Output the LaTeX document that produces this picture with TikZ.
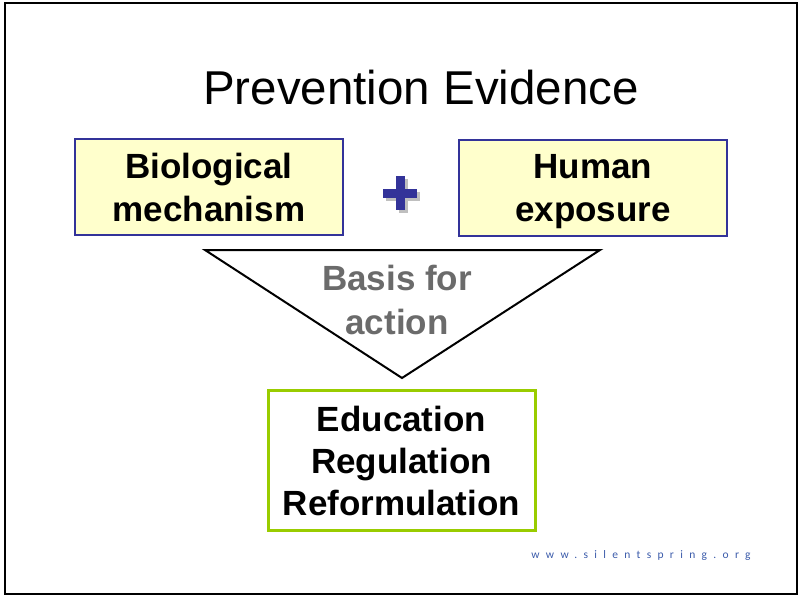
\documentclass[tikz,border=0pt]{standalone}
\usepackage{fontspec}
\setmainfont{Liberation Sans}
\newfontfamily\urlfont{Carlito}
\definecolor{boxblue}{HTML}{333399}
\definecolor{boxyellow}{HTML}{FFFFCC}
\definecolor{boxgreen}{HTML}{99CC00}
\definecolor{urlblue}{HTML}{3B5BAA}
\begin{document}
\begin{tikzpicture}[x=1pt,y=-1pt,
  evbox/.style={draw=boxblue,line width=2pt,fill=boxyellow,minimum width=268pt,minimum height=96pt,inner sep=0pt},
  evtext/.style={align=center,inner sep=0pt,font=\fontsize{35}{43}\selectfont\bfseries},
  actbox/.style={draw=boxgreen,line width=3pt,fill=white,minimum width=267pt,minimum height=140pt,inner sep=0pt},
  acttext/.style={align=center,inner sep=0pt,font=\fontsize{35}{42}\selectfont\bfseries},
  basis/.style={align=center,inner sep=0pt,text=black!58,font=\fontsize{35}{44}\selectfont\bfseries},
  plusbar/.style={fill=boxblue},
  plusshadow/.style={fill=black!25}]
\useasboundingbox (0,0) rectangle (803,597);
\draw[line width=2.5pt] (5,3) rectangle (797,594);
\node[font=\fontsize{47.5}{50}\selectfont] (title) at (421,88) {Prevention Evidence};
\node[evbox] (bio) at (209,187) {};
\node[evtext] (biot) at ([yshift=-4pt]bio.center) {\strut Biological\\\strut mechanism};
\node[evbox] (hum) at (593,187.5) {};
\node[evtext] (humt) at ([yshift=-4pt]hum.center) {\strut Human\\\strut exposure};
% plus sign
\fill[plusshadow] (386,191.5) rectangle (420,200.5);
\fill[plusshadow] (398.5,179) rectangle (407.5,213);
\fill[plusbar] (383,188.5) rectangle (417,197.5);
\fill[plusbar] (395.5,176) rectangle (404.5,210);
% triangle
\coordinate (tl) at (205,250);
\coordinate (tr) at (600,250);
\coordinate (tb) at (402,378);
\draw[line width=2pt,fill=white,line join=miter] (tl) -- (tr) -- (tb) -- cycle;
\node[basis] (basis) at (397,304) {\strut Basis for\\\strut action};
\node[actbox] (act) at (401.5,460) {};
\node[acttext] (actt) at ([yshift=-5pt]act.center) {\strut Education\\\strut Regulation\\\strut Reformulation};
\node[text=urlblue,font=\urlfont\fontsize{11.5}{13}\selectfont\addfontfeature{LetterSpace=55}] (url) at (641,555) {www.silentspring.org};
\end{tikzpicture}
\end{document}
